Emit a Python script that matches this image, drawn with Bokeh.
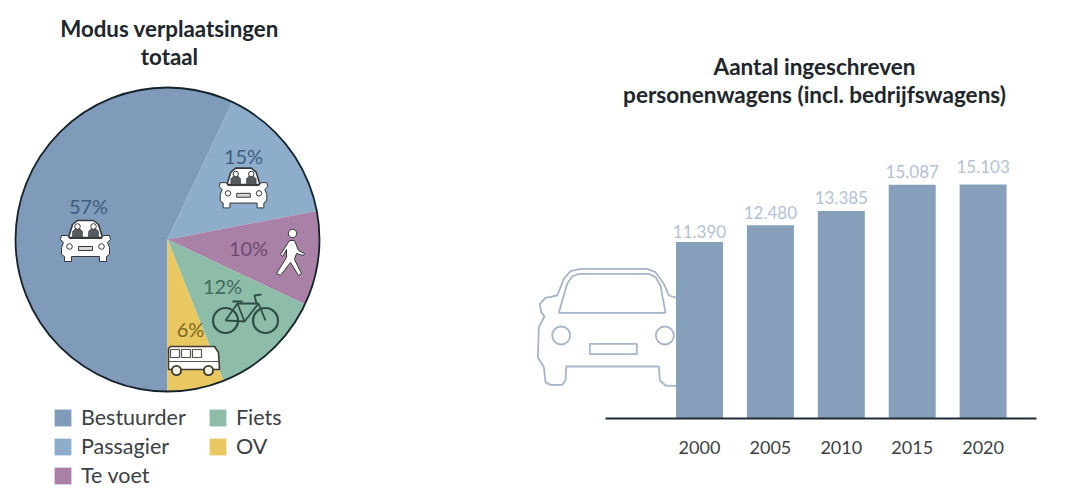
import math

from bokeh.core.properties import value
from bokeh.embed import file_html
from bokeh.layouts import row
from bokeh.models import FixedTicker, Legend, LegendItem, LinearAxis, Range1d
from bokeh.plotting import figure
from bokeh.resources import INLINE

# Modal split
MODES = ["Bestuurder", "Passagier", "Te voet", "Fiets", "OV"]
SHARES = [57, 15, 10, 12, 6]
MODE_COLORS = ["#809ab9", "#8eadcb", "#a981a6", "#8dbca9", "#e9c862"]
SHARE_TEXT_COLORS = ["#3e5c82", "#3e5c82", "#6d4a72", "#3f6b5c", "#7a6a22"]

# Registered cars
YEARS = [2000, 2005, 2010, 2015, 2020]
CARS = [11390, 12480, 13385, 15087, 15103]
CAR_LABELS = ["11.390", "12.480", "13.385", "15.087", "15.103"]
LABEL_LIFT = [11, 13, 14, 13, 18]

FONT = value("Lato")
INK = "#20262b"
BAR = "#86a0bc"
CAR_LINE = "#a6b5c9"
ICON_INK = "#35383a"

LEFT_W, RIGHT_W, H = 520, 545, 488
PIE_CX, PIE_CY, PIE_R = 167, 239, 152
AXIS_Y = 418
PX_PER_YEAR = 14.18
PX_PER_CAR = 234 / 15103
FIRST_BAR_X = 699


def blank(width, height, **kw):
    p = figure(width=width, height=height, output_backend="svg", toolbar_location=None,
               x_axis_location=None, y_axis_location=None, frame_align=False,
               min_border_left=0, min_border_right=0, min_border_top=0, min_border_bottom=0,
               outline_line_color=None, background_fill_color="white",
               border_fill_color="white", **kw)
    p.grid.visible = False
    return p


def poly(p, pts, cx=0, cy=0, s=1.0, **kw):
    xs = [cx + a * s for a, b in pts]
    ys = [cy + b * s for a, b in pts]
    return xs, ys


def patch(p, pts, cx=0, cy=0, s=1.0, fill="white", line=ICON_INK, lw=1.2):
    xs, ys = poly(p, pts, cx, cy, s)
    p.patch(xs, ys, fill_color=fill, line_color=line, line_width=lw,
            x_range_name="px", y_range_name="px")


def stroke(p, pts, cx=0, cy=0, s=1.0, line=ICON_INK, lw=1.2):
    xs, ys = poly(p, pts, cx, cy, s)
    p.line(xs, ys, line_color=line, line_width=lw, line_join="round",
           x_range_name="px", y_range_name="px")


def ring(p, x, y, r, fill="white", line=ICON_INK, lw=1.2):
    p.circle(x=[x], y=[y], radius=r, fill_color=fill, line_color=line, line_width=lw,
             fill_alpha=1 if fill else 0, x_range_name="px", y_range_name="px")


def small_car(p, cx, cy, s):
    """Front view of a car with two occupants, about 50 units wide."""
    patch(p, [(-17, -4), (-13, -17), (-8, -21), (8, -21), (13, -17), (17, -4)], cx, cy, s,
          fill="white", lw=1.6)
    for hx in (-8, 8):
        patch(p, [(hx - 5, -4), (hx - 5, -10), (hx - 2, -13), (hx + 2, -13), (hx + 5, -10), (hx + 5, -4)],
              cx, cy, s, fill="#555a5e", lw=0.6)
        ring(p, cx + hx * s, cy - 15 * s, 2.8 * s, fill="white", lw=1)
    patch(p, [(-25, -2), (-24, -6), (-18, -6), (-16, -3), (16, -3), (18, -6), (24, -6), (25, -2),
              (22, 1), (24, 6), (24, 13), (21, 15), (21, 20), (14, 20), (14, 15),
              (-14, 15), (-14, 20), (-21, 20), (-21, 15), (-24, 13), (-24, 6), (-22, 1)],
          cx, cy, s, fill="white", lw=1.0)
    ring(p, cx - 16 * s, cy + 5 * s, 2.8 * s, fill="white", lw=1)
    ring(p, cx + 16 * s, cy + 5 * s, 2.8 * s, fill="white", lw=1)
    patch(p, [(-7, 5), (7, 5), (7, 9), (-7, 9)], cx, cy, s, fill="#d7d9da", lw=1)


# ---- share of trips ----
pie = blank(LEFT_W, H,
            x_range=Range1d(-PIE_CX / PIE_R, (LEFT_W - PIE_CX) / PIE_R),
            y_range=Range1d((PIE_CY - H) / PIE_R, PIE_CY / PIE_R))
pie.extra_x_ranges["px"] = Range1d(0, LEFT_W)
pie.extra_y_ranges["px"] = Range1d(H, 0)

total = sum(SHARES)
angle = -math.pi / 2
starts, ends = [], []
for share in SHARES:
    sweep = 2 * math.pi * share / total
    starts.append(angle - sweep)
    ends.append(angle)
    angle -= sweep

slices = pie.wedge(x=[0] * 5, y=[0] * 5, radius=1, start_angle=starts, end_angle=ends,
                   fill_color=MODE_COLORS, line_color=None)
pie.arc(x=[0], y=[0], radius=1, start_angle=0, end_angle=2 * math.pi,
        line_color="#15232c", line_width=1.8)

# passenger and driver icons
small_car(pie, 85, 241, 1.0)
small_car(pie, 243, 188, 0.97)

# pedestrian
ring(pie, 292, 233, 4.2, lw=1.0)
patch(pie, [(289, 240), (294, 240), (298, 250), (304, 253), (303, 255), (296, 253), (294, 259),
            (301, 273), (298, 275), (290, 262), (280, 275), (276, 273), (286, 257), (286, 249),
            (282, 256), (280, 254)], fill="white", lw=1.0)

# bicycle
for wx in (225, 265):
    ring(pie, wx, 320, 12.5, fill=None, line="#2f4d45", lw=2.2)
for seg in ([(225, 320), (237, 303), (258, 303), (265, 320)],
            [(237, 303), (244, 321), (225, 320)],
            [(244, 321), (258, 303)],
            [(232, 301), (242, 301)],
            [(256, 303), (254, 295), (261, 294)]):
    stroke(pie, seg, line="#2f4d45", lw=1.8)

# bus
patch(pie, [(168, 348), (170, 346), (214, 346), (218, 352), (219, 369), (168, 369)],
      fill="white", line="#3c3a2c", lw=1.6)
for wx in (170, 181, 192):
    patch(pie, [(wx, 349), (wx + 9, 349), (wx + 9, 357), (wx, 357)], fill="white",
          line="#55544a", lw=1.2)
stroke(pie, [(168, 361), (219, 361)], line="#55544a", lw=1.0)
ring(pie, 176, 370, 4.6, fill="#f3efe0", line="#3c3a2c", lw=1.8)
ring(pie, 208, 370, 4.6, fill="#f3efe0", line="#3c3a2c", lw=1.8)

SHARE_X = [88, 243, 248, 222, 190]
SHARE_Y = [205, 155, 247, 285, 328]
pie.text(x=SHARE_X, y=SHARE_Y, text=[f"{s}%" for s in SHARES], text_color=SHARE_TEXT_COLORS,
         text_font=FONT, text_font_size="20px", text_align="center", text_baseline="middle",
         x_range_name="px", y_range_name="px")

pie.text(x=[169, 169], y=[28, 56], text=["Modus verplaatsingen", "totaal"], text_color=INK,
         text_font=FONT, text_font_style="bold", text_font_size="22.3px",
         text_align="center", text_baseline="middle", x_range_name="px", y_range_name="px")

legend = Legend(items=[LegendItem(label=m, renderers=[slices], index=i) for i, m in enumerate(MODES)],
                nrows=3, location=(52, 0), glyph_width=21, glyph_height=21,
                label_standoff=8, label_width=123, spacing=3, padding=0, margin=0,
                label_text_font="Lato", label_text_font_size="21.5px", label_text_color="#3b4045",
                background_fill_alpha=0, border_line_color=None)
pie.add_layout(legend)

# ---- registered cars ----
year_at = lambda px: YEARS[0] + (px - FIRST_BAR_X) / PX_PER_YEAR
bars = blank(RIGHT_W, H,
             x_range=Range1d(year_at(LEFT_W), year_at(LEFT_W + RIGHT_W)),
             y_range=Range1d(0, AXIS_Y / PX_PER_CAR))
bars.min_border_bottom = H - AXIS_Y
bars.extra_x_ranges["px"] = Range1d(LEFT_W, LEFT_W + RIGHT_W)
bars.extra_y_ranges["px"] = Range1d(AXIS_Y, 0)

# outline of the car standing behind the first bar
zoom = lambda pts: [(520 + a / 3, 240 + b / 3) for a, b in pts]
stroke(bars, zoom([(470, 172), (445, 165), (430, 130), (405, 95), (380, 85), (180, 85), (150, 92),
                   (130, 115), (110, 165), (75, 172), (58, 190), (62, 215), (72, 228), (55, 260),
                   (52, 350), (70, 380), (75, 425), (90, 433), (125, 433), (135, 420), (137, 378),
                   (415, 378), (418, 420), (435, 435), (470, 437)]), line=CAR_LINE, lw=1.8)
patch(bars, zoom([(115, 217), (140, 130), (155, 108), (175, 100), (385, 100), (405, 110), (420, 135),
                  (435, 217)]), fill="white", line=CAR_LINE, lw=1.8)
patch(bars, zoom([(208, 310), (349, 310), (349, 341), (208, 341)]), fill="white", line=CAR_LINE, lw=1.8)
ring(bars, 520 + 122 / 3, 240 + 285 / 3, 9, fill="white", line=CAR_LINE, lw=1.8)
ring(bars, 520 + 433 / 3, 240 + 285 / 3, 9, fill="white", line=CAR_LINE, lw=1.8)

bars.vbar(x=YEARS, top=CARS, bottom=0, width=47 / PX_PER_YEAR, fill_color=BAR, line_color=None)
bars.text(x=YEARS, y=CARS, text=CAR_LABELS, y_offset=[-v for v in LABEL_LIFT],
          text_color="#b3c1d6", text_font=FONT, text_font_size="17px",
          text_align="center", text_baseline="middle")

axis = LinearAxis(ticker=FixedTicker(ticks=YEARS), bounds=(year_at(605), year_at(1036)),
                  major_tick_line_color=None, minor_tick_line_color=None,
                  axis_line_color="#1e2a33", axis_line_width=1.8,
                  major_label_text_font="Lato", major_label_text_font_size="18px",
                  major_label_text_color="#3b4045", major_label_standoff=16)
bars.add_layout(axis, "below")

bars.text(x=[814, 814], y=[66, 94],
          text=["Aantal ingeschreven", "personenwagens (incl. bedrijfswagens)"],
          text_color=INK, text_font=FONT, text_font_style="bold", text_font_size="22.5px",
          text_align="center", text_baseline="middle", x_range_name="px", y_range_name="px")

page = row(pie, bars, spacing=0)
with open("out.html", "w") as f:
    f.write(file_html(page, INLINE))
